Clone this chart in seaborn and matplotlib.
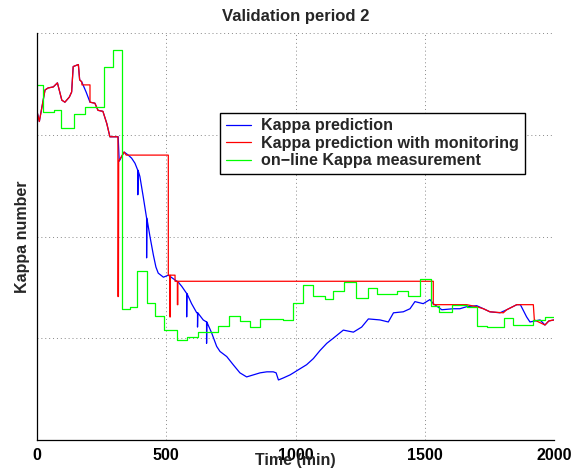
import pandas as pd
import matplotlib
matplotlib.use("Agg")
import matplotlib.pyplot as plt
import seaborn as sns

# Kappa prediction (blue)
pred_time = [0, 9, 31, 43, 63, 79, 96, 108, 125, 134, 140, 160, 165, 173, 190, 205,
             224, 236, 255, 270, 282, 314, 318, 337, 353, 366, 379, 390, 390, 391,
             398, 411, 424, 424, 425, 437, 450, 460, 469, 489, 508, 530, 547, 560,
             579, 579, 580, 598, 618, 621, 621, 622, 643, 656, 656, 657, 676, 695,
             708, 734, 759, 785, 811, 837, 863, 889, 914, 925, 934, 953, 979, 992,
             1011, 1043, 1069, 1095, 1121, 1146, 1185, 1224, 1256, 1282, 1327, 1359,
             1379, 1417, 1443, 1462, 1494, 1520, 1533, 1566, 1610, 1636, 1662, 1701,
             1727, 1752, 1791, 1817, 1856, 1870, 1894, 1907, 1946, 1965, 1980, 2000]
pred_kappa = [3.23, 3.13, 3.44, 3.46, 3.47, 3.51, 3.34, 3.32, 3.37, 3.42, 3.67, 3.69,
              3.54, 3.52, 3.42, 3.32, 3.31, 3.24, 3.23, 3.11, 2.98, 2.98, 2.74, 2.83,
              2.80, 2.77, 2.72, 2.65, 2.41, 2.65, 2.59, 2.39, 2.18, 1.79, 2.18, 2.00,
              1.82, 1.70, 1.64, 1.60, 1.62, 1.58, 1.55, 1.51, 1.44, 1.21, 1.44, 1.34,
              1.25, 1.25, 1.11, 1.25, 1.18, 1.16, 0.95, 1.16, 1.05, 0.92, 0.87, 0.82,
              0.74, 0.66, 0.62, 0.64, 0.66, 0.67, 0.67, 0.66, 0.59, 0.61, 0.64, 0.66,
              0.69, 0.74, 0.80, 0.88, 0.95, 1.00, 1.08, 1.06, 1.11, 1.19, 1.18, 1.16,
              1.25, 1.26, 1.29, 1.36, 1.34, 1.38, 1.34, 1.28, 1.29, 1.29, 1.31, 1.32,
              1.29, 1.26, 1.25, 1.28, 1.33, 1.33, 1.21, 1.16, 1.18, 1.13, 1.17, 1.18]

# Kappa prediction with monitoring (red)
mon_time = [0, 9, 31, 43, 63, 79, 96, 108, 125, 134, 140, 160, 165, 173, 174, 205, 205,
            224, 236, 255, 270, 282, 313, 313, 315, 316, 337, 345, 508, 508, 514, 514,
            516, 516, 534, 534, 543, 543, 545, 545, 1533, 1533, 1662, 1701, 1727,
            1752, 1804, 1817, 1856, 1920, 1924, 1965, 1980, 2000]
mon_kappa = [3.23, 3.13, 3.44, 3.46, 3.47, 3.51, 3.34, 3.32, 3.37, 3.42, 3.67, 3.69,
             3.54, 3.52, 3.49, 3.49, 3.32, 3.31, 3.24, 3.23, 3.11, 2.98, 2.98, 1.41,
             1.41, 2.74, 2.83, 2.80, 2.80, 1.62, 1.62, 1.21, 1.21, 1.62, 1.62, 1.56,
             1.56, 1.33, 1.33, 1.56, 1.56, 1.33, 1.33, 1.31, 1.29, 1.26, 1.25, 1.28,
             1.33, 1.33, 1.18, 1.13, 1.17, 1.18]

# on-line Kappa measurement (green, step)
meas_time = [0, 22, 66, 92, 143, 186, 259, 293, 328, 360, 388, 424, 456, 492, 543,
             579, 624, 701, 744, 785, 824, 863, 904, 950, 989, 1030, 1067, 1114, 1146,
             1189, 1234, 1279, 1314, 1391, 1436, 1482, 1524, 1556, 1604, 1662, 1701,
             1740, 1807, 1840, 1920, 1965, 2000]
meas_kappa = [3.49, 3.22, 3.24, 3.07, 3.20, 3.27, 3.67, 3.83, 1.29, 1.31, 1.66, 1.35,
              1.22, 1.08, 0.98, 1.01, 1.06, 1.12, 1.22, 1.17, 1.11, 1.19, 1.19, 1.18,
              1.35, 1.52, 1.42, 1.39, 1.46, 1.55, 1.40, 1.49, 1.43, 1.46, 1.42, 1.58,
              1.32, 1.26, 1.33, 1.31, 1.12, 1.11, 1.20, 1.13, 1.18, 1.21, 1.21]

x_ticks = [0, 500, 1000, 1500, 2000]
y_ticks = [0, 1, 2, 3, 4]


def main():
    sns.set_style("white")
    plt.rcParams['font.family'] = ['Liberation Sans', 'DejaVu Sans']
    plt.rcParams['font.weight'] = 'bold'

    fig = plt.figure(figsize=(5.8, 4.74), dpi=100)
    ax = fig.add_axes([37 / 580, 34 / 474, 517 / 580, 407 / 474])

    pred = pd.DataFrame({'t': pred_time, 'k': pred_kappa})
    mon = pd.DataFrame({'t': mon_time, 'k': mon_kappa})
    meas = pd.DataFrame({'t': meas_time, 'k': meas_kappa})

    sns.lineplot(data=pred, x='t', y='k', sort=False, estimator=None, ax=ax,
                 color='#0000ff', lw=0.9, label='Kappa prediction')
    sns.lineplot(data=mon, x='t', y='k', sort=False, estimator=None, ax=ax,
                 color='#ff0000', lw=0.9, label='Kappa prediction with monitoring')
    sns.lineplot(data=meas, x='t', y='k', sort=False, estimator=None, ax=ax,
                 color='#00ff00', lw=0.9, drawstyle='steps-post',
                 label='on\u2212line Kappa measurement')

    ax.set_xlim(0, 2000)
    ax.set_ylim(0, 4)
    ax.set_xticks(x_ticks)
    ax.set_xticklabels([str(v) for v in x_ticks], fontsize=11.5, fontweight='bold')
    ax.set_yticks(y_ticks)
    ax.set_yticklabels([])
    ax.tick_params(direction='in', length=4, width=0.8, colors='black', pad=6)
    ax.grid(True, linestyle=(0, (1, 3)), color='#888888', lw=0.7)

    for side in ['top', 'right']:
        ax.spines[side].set_visible(False)
    for side in ['left', 'bottom']:
        ax.spines[side].set_color('black')
        ax.spines[side].set_linewidth(0.9)

    ax.set_title('Validation period 2', fontsize=12, fontweight='bold', pad=8.5)
    ax.set_xlabel('Time (min)', fontsize=11.5, fontweight='bold')
    ax.xaxis.set_label_coords(0.5, -0.032)
    ax.set_ylabel('Kappa number', fontsize=11.5, fontweight='bold')
    ax.yaxis.set_label_coords(-0.013, 0.5)

    leg = ax.legend(loc='upper left', bbox_to_anchor=(0.354, 0.804), borderaxespad=0,
                    fancybox=False, framealpha=1, edgecolor='black', fontsize=11.6,
                    handlelength=1.6, handletextpad=0.6, labelspacing=0.15,
                    borderpad=0.35)
    leg.get_frame().set_linewidth(1.0)
    for txt in leg.get_texts():
        txt.set_fontweight('bold')

    fig.savefig('out.png', dpi=100)


if __name__ == "__main__":
    main()
